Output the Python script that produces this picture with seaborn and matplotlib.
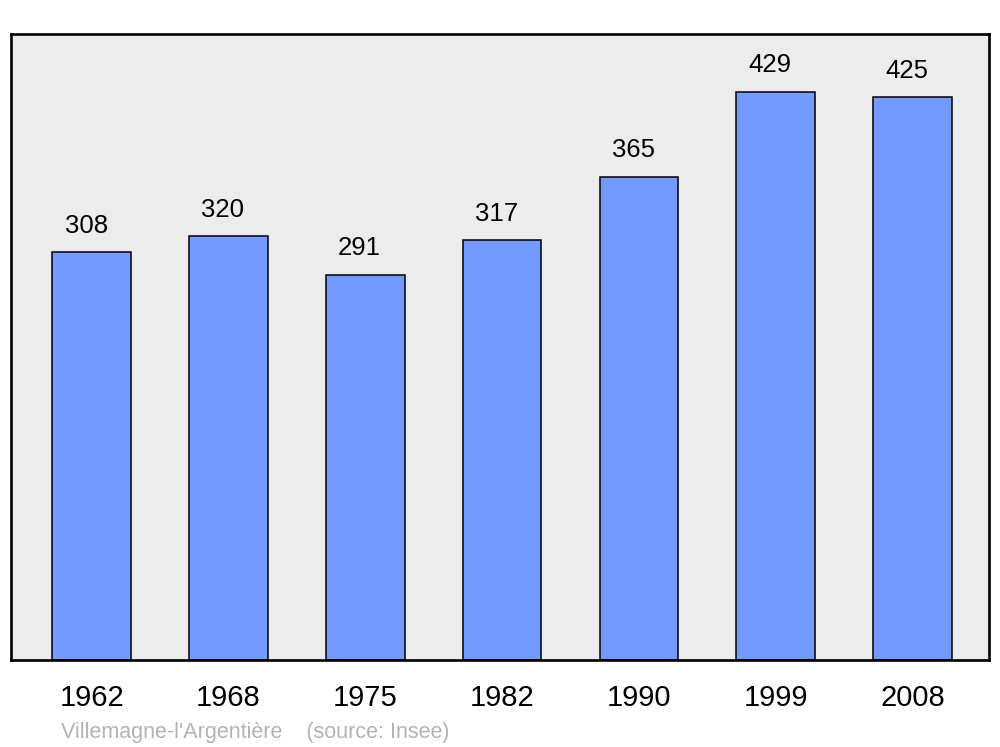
import matplotlib
matplotlib.use('Agg')
import matplotlib.pyplot as plt
import seaborn as sns
import pandas as pd

years = ['1962', '1968', '1975', '1982', '1990', '1999', '2008']
population = [308, 320, 291, 317, 365, 429, 425]

sns.set_style('white')
plt.rcParams['font.family'] = ['Liberation Sans', 'DejaVu Sans']
plt.rcParams['text.color'] = 'black'
plt.rcParams['xtick.color'] = 'black'

df = pd.DataFrame({'year': years, 'population': population})

fig = plt.figure(figsize=(10, 7.47), dpi=100)
ax = fig.add_axes([0.011, 0.1165, 0.978, 0.838])
ax.set_facecolor('#ececec')

sns.barplot(data=df, x='year', y='population', color='#7499ff', saturation=1,
            width=0.575, edgecolor='black', linewidth=1.1, ax=ax)

for i, v in enumerate(population):
    ax.annotate(str(v), (i, v), xytext=(-4, 19), textcoords='offset points',
                ha='center', va='center', fontsize=18.5, color='black')

ax.set_xlim(-0.59, 6.56)
ax.set_ylim(0, 472.6)
ax.set_yticks([])
ax.set_xlabel('')
ax.set_ylabel('')
ax.tick_params(axis='x', length=0, pad=17, labelsize=21, labelcolor='black')
for s in ax.spines.values():
    s.set_linewidth(1.9)
    s.set_color('black')

fig.text(0.061, 0.019, "Villemagne-l'Argentière    (source: Insee)",
         fontsize=15.5, color='#b3b3b3', ha='left', va='center')

fig.savefig('out.png', dpi=100)
